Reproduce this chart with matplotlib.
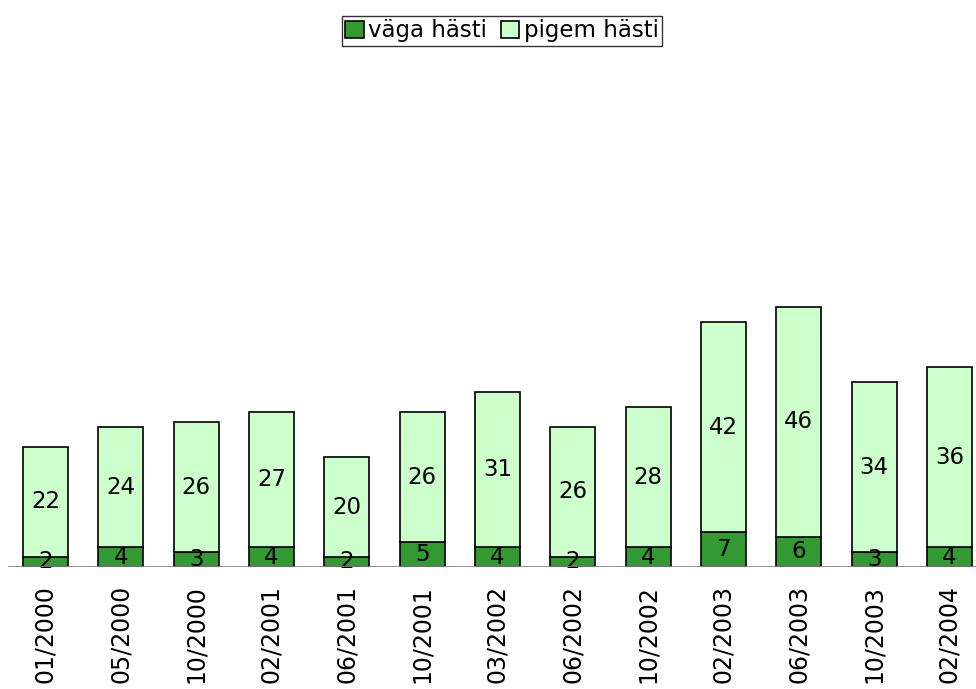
import numpy as np
import matplotlib.pyplot as plt

plt.rcParams['font.family'] = ['DejaVu Sans']

dates = ['01/2000', '05/2000', '10/2000', '02/2001', '06/2001', '10/2001', '03/2002',
         '06/2002', '10/2002', '02/2003', '06/2003', '10/2003', '02/2004']
vaga = [2, 4, 3, 4, 2, 5, 4, 2, 4, 7, 6, 3, 4]
pigem = [22, 24, 26, 27, 20, 26, 31, 26, 28, 42, 46, 34, 36]

dark = '#339933'
light = '#ccffcc'

fig = plt.figure(figsize=(9.76, 6.89), dpi=100)
ax = fig.add_axes([0, 122 / 689, 1, 500 / 689])

x = np.arange(len(dates))
b1 = ax.bar(x, vaga, width=0.6, color=dark, edgecolor='black', linewidth=1.2,
            label='väga hästi', zorder=2)
b2 = ax.bar(x, pigem, width=0.6, bottom=vaga, color=light, edgecolor='black',
            linewidth=1.2, label='pigem hästi', zorder=2)

for i in range(len(dates)):
    ax.text(x[i], vaga[i] / 2, str(vaga[i]), ha='center', va='center', fontsize=16.5, zorder=3)
    ax.text(x[i], vaga[i] + pigem[i] / 2, str(pigem[i]), ha='center', va='center',
            fontsize=16.5, zorder=3)

# px -> data: first bar centre at 45.5 px, step 75.33 px
ax.set_xlim(-45.5 / 75.33, (976 - 45.5) / 75.33)
ax.set_ylim(0, 100)
ax.hlines(0, -0.5, 13, color='#808080', linewidth=1.2, zorder=4)

ax.set_xticks(x)
ax.set_xticklabels(dates, rotation=90, fontsize=17)
ax.tick_params(axis='x', length=0, pad=13)
ax.set_yticks([])
for s in ax.spines.values():
    s.set_visible(False)

fig.legend(handles=[b1, b2], loc='center', bbox_to_anchor=(502 / 976, 1 - 31 / 689),
           ncol=2, fontsize=16.5, frameon=True, fancybox=False, edgecolor='black',
           handlelength=0.8, handleheight=0.8, handletextpad=0.2, columnspacing=0.6,
           borderpad=0.15, borderaxespad=0)

fig.savefig('out.png', dpi=100)
